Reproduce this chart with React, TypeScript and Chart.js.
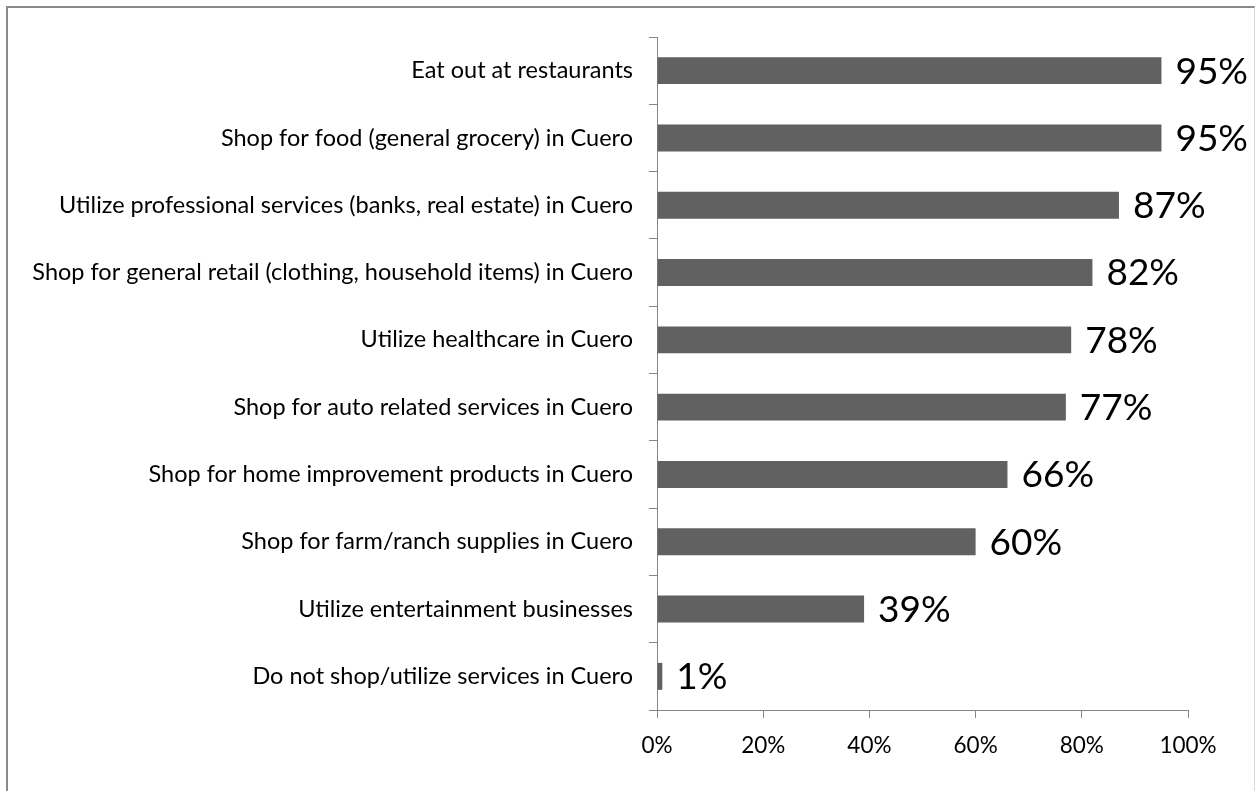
import React, { useEffect, useRef } from "react";
import { Chart, registerables } from "chart.js";

Chart.register(...registerables);

const categories = [
  "Eat out at restaurants",
  "Shop for food (general grocery) in Cuero",
  "Utilize professional services (banks, real estate) in Cuero",
  "Shop for general retail (clothing, household items) in Cuero",
  "Utilize healthcare in Cuero",
  "Shop for auto related services in Cuero",
  "Shop for home improvement products in Cuero",
  "Shop for farm/ranch supplies in Cuero",
  "Utilize entertainment businesses",
  "Do not shop/utilize services in Cuero",
];

const values = [95, 95, 87, 82, 78, 77, 66, 60, 39, 1];

const FONT = "Lato, 'Open Sans', sans-serif";

const dataLabelPlugin = {
  id: "dataLabels",
  afterDatasetsDraw(chart: any) {
    const ctx = chart.ctx;
    const meta = chart.getDatasetMeta(0);
    ctx.save();
    ctx.font = `37px ${FONT}`;
    ctx.fillStyle = "#000000";
    ctx.textAlign = "left";
    ctx.textBaseline = "middle";
    meta.data.forEach((bar: any, i: number) => {
      ctx.fillText(`${values[i]}%`, bar.x + 14, bar.y + 1);
    });
    ctx.restore();
  },
};

export default function App() {
  const ref = useRef<HTMLCanvasElement>(null);

  useEffect(() => {
    document.body.style.margin = "0";
    const chart = new Chart(ref.current!, {
      type: "bar",
      data: {
        labels: categories,
        datasets: [
          {
            data: values,
            backgroundColor: "#616161",
            borderWidth: 0,
            barPercentage: 0.4,
            categoryPercentage: 1,
          },
        ],
      },
      options: {
        indexAxis: "y",
        animation: false,
        responsive: false,
        maintainAspectRatio: false,
        layout: { padding: { top: 37, right: 67, bottom: 31, left: 0 } },
        plugins: {
          legend: { display: false },
          tooltip: { enabled: false },
        },
        scales: {
          x: {
            min: 0,
            max: 100,
            ticks: {
              stepSize: 20,
              callback: (v: any) => `${v}%`,
              color: "#000000",
              font: { family: FONT, size: 22.5 },
              padding: 14,
              maxRotation: 0,
            },
            grid: {
              drawOnChartArea: false,
              drawTicks: true,
              tickLength: 8,
              color: "#868686",
              lineWidth: 1,
            },
            border: { display: true, color: "#868686", width: 1 },
            afterFit: (s: any) => {
              s.height = 50;
            },
          },
          y: {
            ticks: {
              color: "#000000",
              font: { family: FONT, size: 23.5 },
              padding: 16,
              autoSkip: false,
            },
            grid: {
              offset: true,
              drawOnChartArea: false,
              drawTicks: true,
              tickLength: 8,
              color: "#868686",
              lineWidth: 1,
            },
            border: { display: true, color: "#868686", width: 1 },
            afterFit: (s: any) => {
              s.width = 657;
            },
          },
        },
      },
      plugins: [dataLabelPlugin],
    });
    return () => chart.destroy();
  }, []);

  return (
    <div style={{ position: "relative", width: 1255, height: 791, background: "#ffffff" }}>
      <canvas ref={ref} width={1255} height={791} style={{ display: "block" }} />
      <div
        style={{
          position: "absolute",
          left: 6,
          top: 6,
          width: 1246,
          height: 800,
          borderTop: "2px solid #8a8a8a",
          borderLeft: "2px solid #8a8a8a",
          borderRight: "1px solid #d9d9d9",
          pointerEvents: "none",
        }}
      />
    </div>
  );
}
